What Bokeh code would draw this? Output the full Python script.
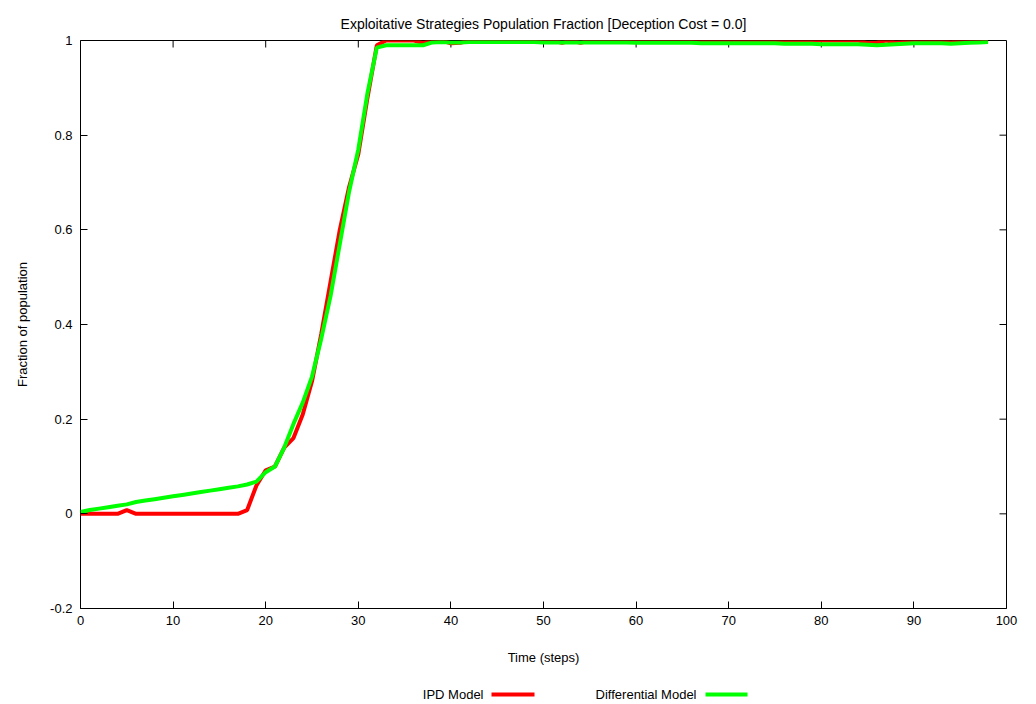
from bokeh.plotting import figure
from bokeh.layouts import column
from bokeh.models import Range1d, FixedTicker
from bokeh.core.properties import value
from bokeh.embed import file_html
from bokeh.resources import INLINE

# Simulation steps
steps = list(range(0, 99))

# Fraction of exploitative strategies, IPD simulation
ipd_model = [
    0.0, 0.0, 0.0, 0.0, 0.0, 0.008, 0.0, 0.0, 0.0, 0.0,
    0.0, 0.0, 0.0, 0.0, 0.0, 0.0, 0.0, 0.0, 0.008, 0.06,
    0.092, 0.1, 0.14, 0.16, 0.21, 0.28, 0.38, 0.49, 0.6, 0.69,
    0.76, 0.88, 0.99, 1.0, 1.0, 1.0, 1.0, 0.995, 1.0, 1.0,
    0.994, 0.995, 1.0, 1.0, 1.0, 1.0, 1.0, 1.0, 1.0, 1.0,
    1.0, 1.0, 0.995, 1.0, 0.995, 1.0, 1.0, 1.0, 1.0, 1.0,
    1.0, 1.0, 1.0, 1.0, 1.0, 1.0, 1.0, 0.998, 1.0, 1.0,
    1.0, 1.0, 1.0, 1.0, 1.0, 1.0, 1.0, 1.0, 1.0, 1.0,
    1.0, 1.0, 1.0, 1.0, 1.0, 0.995, 0.996, 1.0, 0.996, 0.997,
    1.0, 1.0, 1.0, 1.0, 0.996, 1.0, 0.997, 0.997, 1.0,
]

# Fraction of exploitative strategies, differential model
differential_model = [
    0.004, 0.008, 0.011, 0.014, 0.017, 0.02, 0.025, 0.028, 0.031, 0.034,
    0.037, 0.04, 0.043, 0.046, 0.049, 0.052, 0.055, 0.058, 0.062, 0.068,
    0.088, 0.1, 0.14, 0.19, 0.235, 0.29, 0.37, 0.46, 0.57, 0.68,
    0.77, 0.89, 0.985, 0.99, 0.99, 0.99, 0.99, 0.99, 0.996, 0.997,
    0.996, 0.996, 0.997, 0.997, 0.997, 0.997, 0.997, 0.997, 0.997, 0.997,
    0.996, 0.996, 0.996, 0.996, 0.996, 0.996, 0.996, 0.996, 0.996, 0.996,
    0.995, 0.995, 0.995, 0.995, 0.995, 0.995, 0.995, 0.994, 0.994, 0.994,
    0.994, 0.994, 0.994, 0.994, 0.994, 0.994, 0.993, 0.993, 0.993, 0.993,
    0.992, 0.992, 0.992, 0.992, 0.992, 0.991, 0.99, 0.991, 0.992, 0.993,
    0.994, 0.994, 0.994, 0.994, 0.993, 0.994, 0.995, 0.996, 0.997,
]

x_ticks = [0, 10, 20, 30, 40, 50, 60, 70, 80, 90, 100]
y_ticks = [-0.2, 0.0, 0.2, 0.4, 0.6, 0.8, 1.0]
y_tick_labels = {-0.2: "-0.2", 0.0: "0", 0.2: "0.2", 0.4: "0.4", 0.6: "0.6", 0.8: "0.8", 1.0: "1"}

series_names = ["IPD Model", "Differential Model"]
series_colors = ["#ff0000", "#00ff00"]

FONT = "Liberation Sans"
W = 1036
MAIN_H, LEG_H = 680, 24
LEFT, RIGHT, TOP, BOTTOM = 80, 30, 40, 72
X0, X1, Y0, Y1 = 0, 100, -0.2, 1.0
TICK_PX = 7

p = figure(
    width=W, height=MAIN_H,
    x_range=Range1d(X0, X1), y_range=Range1d(Y0, Y1),
    output_backend="svg", toolbar_location=None,
    min_border_left=LEFT, min_border_right=RIGHT,
    min_border_top=TOP, min_border_bottom=BOTTOM,
    title="Exploitative Strategies Population Fraction [Deception Cost = 0.0]",
)
p.title.align = "center"
p.title.text_font = FONT
p.title.text_font_size = "14px"
p.title.text_font_style = "normal"
p.title.text_color = "black"
p.title.offset = 0
p.title.standoff = 17

p.grid.visible = False
p.outline_line_color = "black"
p.outline_line_width = 1
p.background_fill_color = "white"
p.border_fill_color = "white"

for ax in (p.xaxis[0], p.yaxis[0]):
    ax.axis_line_color = None
    ax.major_tick_in = TICK_PX
    ax.major_tick_out = 0
    ax.minor_tick_line_color = None
    ax.major_tick_line_color = "black"
    ax.major_label_text_font = FONT
    ax.major_label_text_font_size = "13px"
    ax.major_label_text_color = "black"
    ax.axis_label_text_font = FONT
    ax.axis_label_text_font_size = "13px"
    ax.axis_label_text_font_style = "normal"
    ax.axis_label_text_color = "black"

xa = p.xaxis[0]
xa.ticker = FixedTicker(ticks=x_ticks)
xa.axis_label = "Time (steps)"
xa.major_label_standoff = 7
xa.axis_label_standoff = 22

ya = p.yaxis[0]
ya.ticker = FixedTicker(ticks=y_ticks)
ya.major_label_overrides = y_tick_labels
ya.axis_label = "Fraction of population"
ya.major_label_standoff = 8
ya.axis_label_standoff = 17

# mirrored inward ticks along the top and right edges
frame_w = W - LEFT - RIGHT
frame_h = MAIN_H - TOP - BOTTOM
tick_dx = TICK_PX * (X1 - X0) / frame_w
tick_dy = TICK_PX * (Y1 - Y0) / frame_h
inner_x = x_ticks[1:-1]
inner_y = y_ticks[1:-1]
p.segment(x0=inner_x, y0=[Y1] * len(inner_x), x1=inner_x, y1=[Y1 - tick_dy] * len(inner_x),
          line_color="black", line_width=1)
p.segment(x0=[X1] * len(inner_y), y0=inner_y, x1=[X1 - tick_dx] * len(inner_y), y1=inner_y,
          line_color="black", line_width=1)

p.line(steps, ipd_model, line_color=series_colors[0], line_width=4)
p.line(steps, differential_model, line_color=series_colors[1], line_width=4)

# key strip under the chart: label text followed by a line sample.
# Its frame is aligned with the main frame, so the range spans the
# main frame's pixel columns to keep x in page pixels.
leg = figure(
    width=W, height=LEG_H,
    x_range=Range1d(LEFT, W - RIGHT), y_range=Range1d(0, LEG_H),
    output_backend="svg", toolbar_location=None,
    x_axis_type=None, y_axis_type=None,
    min_border=0, min_border_left=LEFT, min_border_right=RIGHT,
)
leg.outline_line_color = None
leg.grid.visible = False
leg.background_fill_color = "white"
leg.border_fill_color = "white"

key_text_right = [483, 696]
key_line_start = [491, 705]
key_line_end = [534, 747]
key_y = 10
leg.text(x=key_text_right, y=[key_y] * 2, text=series_names,
         text_align="right", text_baseline="middle",
         text_font=value(FONT), text_font_size="13px", text_color="black")
leg.segment(x0=key_line_start, y0=[key_y] * 2, x1=key_line_end, y1=[key_y] * 2,
            line_color=series_colors, line_width=4)

layout = column(p, leg, spacing=0)
open("out.html", "w").write(file_html(layout, INLINE))
